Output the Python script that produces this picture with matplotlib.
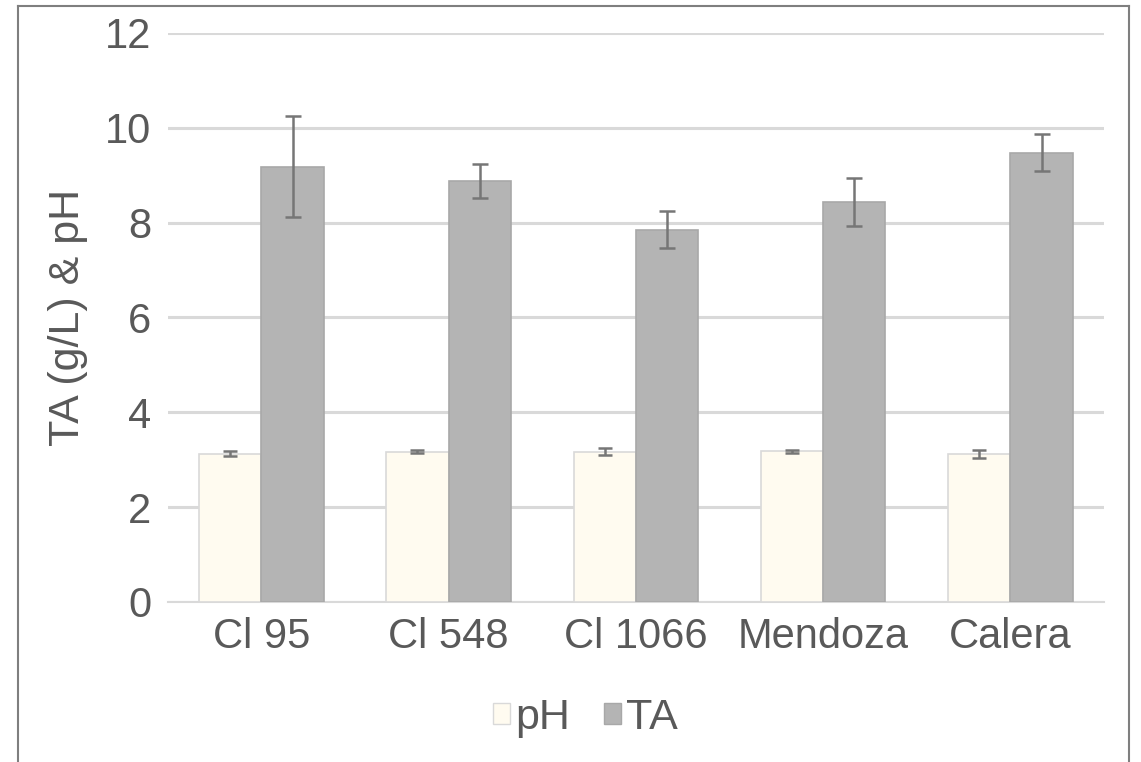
import matplotlib
matplotlib.use("Agg")
import matplotlib.pyplot as plt
import numpy as np
from matplotlib.lines import Line2D
from matplotlib.patches import Patch

categories = ["Cl 95", "Cl 548", "Cl 1066", "Mendoza", "Calera"]
ph_values = [3.13, 3.17, 3.17, 3.18, 3.12]
ph_err = [0.05, 0.03, 0.08, 0.03, 0.09]
ta_values = [9.18, 8.88, 7.85, 8.44, 9.47]
ta_err = [1.07, 0.36, 0.39, 0.51, 0.39]
yticks = [0, 2, 4, 6, 8, 10, 12]

plt.rcParams['font.family'] = ['Liberation Sans', 'DejaVu Sans']
txt = '#595959'

fig = plt.figure(figsize=(11.41, 7.62), dpi=100)
ax = fig.add_axes([0.147, 0.21, 0.8206, 0.7467])

x = np.arange(len(categories))
w = 0.333
ax.bar(x - w/2, ph_values, w, color='#FFFBF0', edgecolor='#D9D9D9', linewidth=1.2, zorder=3, label='pH')
ax.bar(x + w/2, ta_values, w, color='#B4B4B4', edgecolor='#A8A8A8', linewidth=1.2, zorder=3, label='TA')
ax.errorbar(x - w/2, ph_values, yerr=ph_err, fmt='none', ecolor='#767676', elinewidth=1.8, capsize=5, capthick=1.8, zorder=4)
ax.errorbar(x + w/2, ta_values, yerr=ta_err, fmt='none', ecolor='#767676', elinewidth=1.8, capsize=6, capthick=1.8, zorder=4)

ax.set_xlim(-0.5, 4.5)
ax.set_ylim(0, 12)
ax.set_yticks(yticks)
ax.set_yticklabels([str(t) for t in yticks])
ax.set_xticks(x)
ax.set_xticklabels(categories)
ax.tick_params(axis='both', length=0, labelsize=30, colors=txt)
ax.tick_params(axis='y', pad=12)
ax.tick_params(axis='x', pad=11)
ax.yaxis.grid(True, color='#D9D9D9', linewidth=2.2, zorder=0)
ax.set_axisbelow(True)
for s in ['top', 'right', 'left']:
    ax.spines[s].set_visible(False)
ax.spines['bottom'].set_color('#D9D9D9')
ax.spines['bottom'].set_linewidth(1.5)
ax.set_ylabel('TA (g/L) & pH', fontsize=31, color=txt, labelpad=12)

handles = [Patch(facecolor='#FFFBF0', edgecolor='#D9D9D9', label='pH'),
           Patch(facecolor='#B4B4B4', edgecolor='#A8A8A8', label='TA')]
fig.legend(handles=handles, loc='center', bbox_to_anchor=(0.513, 0.058), ncol=2, frameon=False,
           fontsize=31, labelcolor=txt, handlelength=0.4, handleheight=0.4, handletextpad=0.1,
           columnspacing=0.8)

# outer frame (left, top, right)
fig.add_artist(Line2D([18/1141, 18/1141], [0, 1 - 6/762], transform=fig.transFigure, color='#7F7F7F', linewidth=1.5))
fig.add_artist(Line2D([18/1141, 1129/1141], [1 - 6/762, 1 - 6/762], transform=fig.transFigure, color='#7F7F7F', linewidth=1.5))
fig.add_artist(Line2D([1129/1141, 1129/1141], [0, 1 - 6/762], transform=fig.transFigure, color='#7F7F7F', linewidth=1.5))

fig.savefig('out.png', dpi=100)
